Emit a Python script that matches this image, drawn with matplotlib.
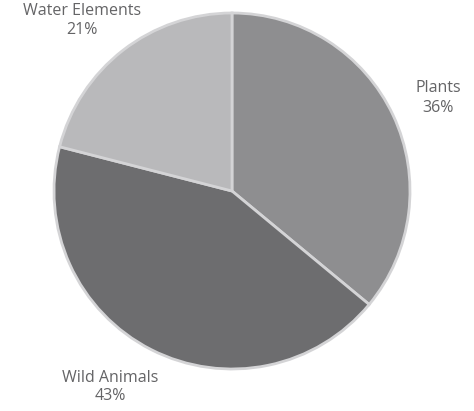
import matplotlib.pyplot as plt

# Pie values
categories = ["Plants", "Wild Animals", "Water Elements"]
shares = [36, 43, 21]
colors = ["#8e8e90", "#6d6d6f", "#b9b9bb"]

# label anchor positions in pixels (x, y from top)
label_pos = {
    "Plants": (438, 98),
    "Wild Animals": (110, 387),
    "Water Elements": (82, 21),
}

W, H = 474, 411
fig = plt.figure(figsize=(W / 100, H / 100), dpi=100)
ax = fig.add_axes([0, 0, 1, 1])
ax.set_xlim(0, W)
ax.set_ylim(0, H)
ax.axis("off")

ax.pie(shares, colors=colors, startangle=90, counterclock=False,
       center=(232, H - 191), radius=178,
       wedgeprops=dict(edgecolor="#d4d4d6", linewidth=2))
ax.set_xlim(0, W)
ax.set_ylim(0, H)

for cat, val in zip(categories, shares):
    x, y = label_pos[cat]
    ax.text(x, H - y, f"{cat}\n{val}%", ha="center", va="center",
            fontsize=11.5, color="#646466", family="Open Sans",
            linespacing=1.25)

plt.savefig("out.png", dpi=100)
